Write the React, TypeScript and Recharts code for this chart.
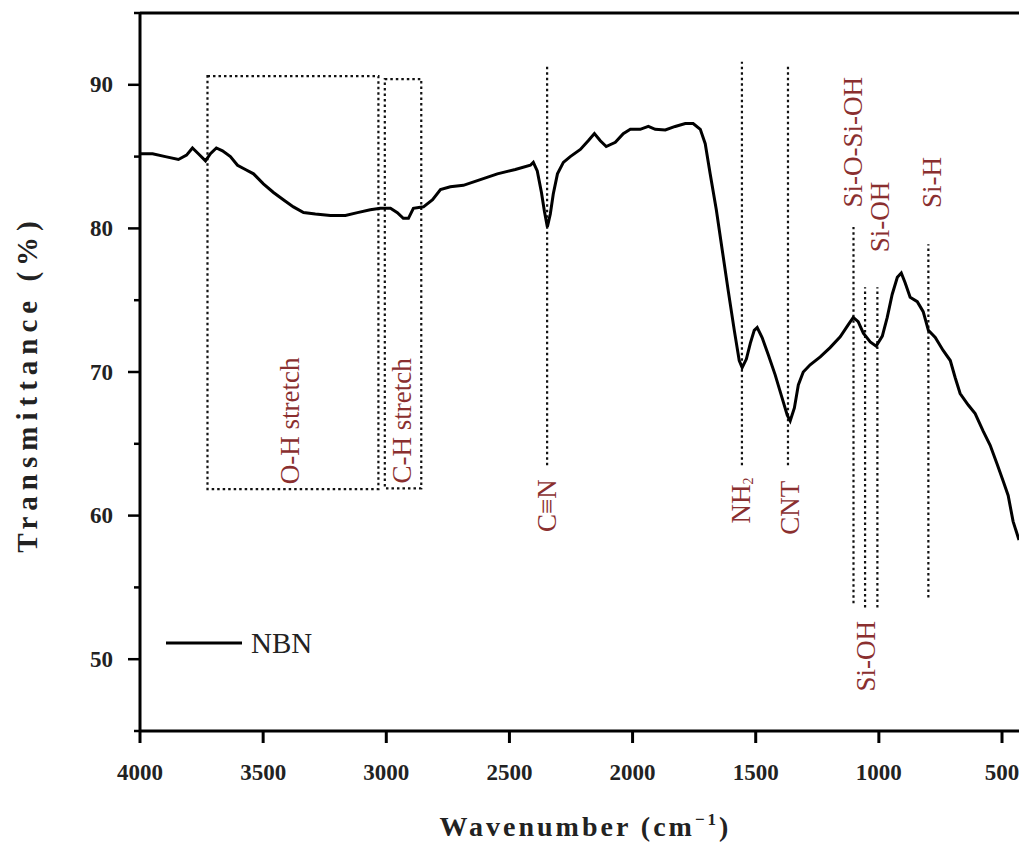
import { LineChart, Line, XAxis, YAxis, ReferenceLine, ReferenceArea, ReferenceDot } from "recharts";

// FTIR spectrum of NBN
const wavenumber = [
  4000, 3949, 3897, 3844, 3811, 3787, 3763, 3734, 3714, 3690, 3665, 3633, 3604, 3572, 3539, 3499,
  3458, 3418, 3377, 3336, 3288, 3227, 3166, 3117, 3065, 3024, 2983, 2955, 2931, 2910, 2890, 2849,
  2812, 2780, 2740, 2687, 2618, 2549, 2476, 2415, 2403, 2387, 2370, 2358, 2346, 2334, 2322, 2305,
  2281, 2253, 2212, 2180, 2155, 2131, 2107, 2070, 2038, 2009, 1969, 1936, 1908, 1867, 1827, 1786,
  1754, 1725, 1705, 1685, 1660, 1636, 1612, 1587, 1567, 1555, 1538, 1522, 1506, 1494, 1474, 1449,
  1421, 1393, 1372, 1360, 1343, 1327, 1307, 1279, 1238, 1198, 1157, 1124, 1104, 1084, 1063, 1035,
  1011, 986, 966, 946, 925, 909, 893, 873, 844, 820, 799, 771, 739, 710, 690, 670,
  637, 609, 577, 548, 520, 495, 475, 455, 431,
];
const transmittance = [
  85.2, 85.2, 85.0, 84.8, 85.1, 85.6, 85.2, 84.7, 85.2, 85.6, 85.4, 85.0, 84.4, 84.1, 83.8, 83.1,
  82.5, 82.0, 81.5, 81.1, 81.0, 80.9, 80.9, 81.1, 81.3, 81.4, 81.4, 81.1, 80.7, 80.7, 81.4, 81.5,
  82.0, 82.7, 82.9, 83.0, 83.4, 83.8, 84.1, 84.4, 84.6, 84.0, 82.5, 81.2, 80.1, 81.0, 82.4, 83.8,
  84.6, 85.0, 85.5, 86.1, 86.6, 86.1, 85.7, 86.0, 86.6, 86.9, 86.9, 87.1, 86.9, 86.85, 87.1, 87.3,
  87.3, 86.9, 85.9, 83.8, 81.3, 78.5, 75.7, 72.9, 70.8, 70.3, 70.9, 72.0, 72.9, 73.1, 72.4, 71.2,
  69.8, 68.2, 67.0, 66.6, 67.5, 69.1, 70.0, 70.5, 71.05, 71.7, 72.45, 73.3, 73.8, 73.5, 72.7, 72.1,
  71.8, 72.5, 73.8, 75.4, 76.6, 76.9, 76.2, 75.2, 74.9, 74.2, 72.9, 72.4, 71.5, 70.8, 69.6, 68.5,
  67.7, 67.1, 65.9, 64.9, 63.6, 62.4, 61.4, 59.6, 58.3,
];

const xTicks = [4000, 3500, 3000, 2500, 2000, 1500, 1000, 500];
const yTicks = [45, 50, 55, 60, 65, 70, 75, 80, 85, 90, 95];

// dotted boxes for the stretch regions
const boxLeft = [3726, 3006];
const boxRight = [3032, 2858];
const boxBottom = [61.85, 61.9];
const boxTop = [90.6, 90.4];

// dotted band markers
const bandWn = [2347, 1556, 1369, 1103, 1056, 1006, 799];
const bandFrom = [63.5, 63.5, 63.5, 53.9, 53.6, 53.6, 54.3];
const bandTo = [91.3, 91.6, 91.3, 80.1, 75.9, 75.9, 78.9];

// band labels (centre of the rotated text)
const labelText = ["O-H stretch", "C-H stretch", "C≡N", "NH2", "CNT", "Si-O-Si-OH", "Si-OH", "Si-H", "Si-OH"];
const labelWn = [3389, 2935, 2346, 1559, 1360, 1104, 995, 784, 1051];
const labelT = [66.6, 66.6, 60.7, 61.05, 60.55, 86.0, 80.8, 83.2, 50.2];

const seriesName = "NBN";

const data = wavenumber.map((wn, i) => ({ wn, t: transmittance[i] }));

const SERIF = '"Liberation Serif", "Times New Roman", serif';
const RED = "#8a2f2f";

function XTick({ x, y, payload }: any) {
  return (
    <g>
      <line x1={x} x2={x} y1={y} y2={y + 12} stroke="#000" strokeWidth={3} />
      <text x={x} y={y + 41} textAnchor="middle" dominantBaseline="central"
            fontFamily={SERIF} fontWeight="bold" fontSize={23} fill="#222">{payload.value}</text>
    </g>
  );
}

function YTick({ x, y, payload }: any) {
  const major = payload.value % 10 === 0;
  return (
    <g>
      <line x1={x - (major ? 12 : 6)} x2={x} y1={y} y2={y} stroke="#000" strokeWidth={2.5} />
      {major && (
        <text x={x - 27} y={y} textAnchor="end" dominantBaseline="central"
              fontFamily={SERIF} fontWeight="bold" fontSize={23} fill="#222">{payload.value}</text>
      )}
    </g>
  );
}

function BandLabel({ cx, cy, text }: any) {
  const isNH2 = text === "NH2";
  return (
    <text x={cx} y={cy} transform={`rotate(-90 ${cx} ${cy})`} textAnchor="middle" dominantBaseline="central"
          fontFamily={SERIF} fontSize={27} fill={RED}>
      {isNH2 ? <>NH<tspan fontSize={14} dy={7}>2</tspan></> : text}
    </text>
  );
}

export default function App() {
  return (
    <div style={{ position: "absolute", left: 0, top: 0, width: 1019, height: 845, background: "#fff" }}>
      <LineChart width={1019} height={845} data={data} margin={{ top: 13, right: 0, bottom: 0, left: 0 }}>
        <XAxis type="number" dataKey="wn" domain={[431, 4000]} reversed allowDataOverflow ticks={xTicks}
               interval={0} height={114} axisLine={{ stroke: "#000", strokeWidth: 3 }} tickLine={false}
               tickSize={0} tickMargin={0} tick={<XTick />}
               label={({ viewBox }: any) => (
                 <text x={viewBox.x + viewBox.width / 2 + 6} y={viewBox.y + 105} textAnchor="middle"
                       fontFamily={SERIF} fontWeight="bold" fontSize={28} letterSpacing={3} fill="#222">
                   Wavenumber (cm<tspan fontSize={17} dy={-11}>−1</tspan><tspan dy={11}>)</tspan>
                 </text>
               )} />
        <YAxis type="number" domain={[45, 95]} allowDataOverflow ticks={yTicks} interval={0} width={140}
               axisLine={{ stroke: "#000", strokeWidth: 3 }} tickLine={false} tickSize={0} tickMargin={0}
               tick={<YTick />}
               label={({ viewBox }: any) => {
                 const cx = 27;
                 const cy = viewBox.y + viewBox.height / 2 + 12;
                 return (
                   <text x={cx} y={cy} transform={`rotate(-90 ${cx} ${cy})`} textAnchor="middle"
                         dominantBaseline="central" fontFamily={SERIF} fontWeight="bold" fontSize={29}
                         letterSpacing={6} fill="#222">Transmittance (%)</text>
                 );
               }} />
        <ReferenceLine y={95} stroke="#000" strokeWidth={3} />
        {boxLeft.map((x1, i) => (
          <ReferenceArea key={`box${i}`} x1={x1} x2={boxRight[i]} y1={boxBottom[i]} y2={boxTop[i]}
                         fill="none" fillOpacity={0} stroke="#111" strokeWidth={2.2} strokeDasharray="2.5 3" />
        ))}
        {bandWn.map((wn, i) => (
          <ReferenceLine key={`band${i}`} segment={[{ x: wn, y: bandFrom[i] }, { x: wn, y: bandTo[i] }]}
                         stroke="#111" strokeWidth={2.2} strokeDasharray="2.5 3" />
        ))}
        {labelText.map((text, i) => (
          <ReferenceDot key={`lab${i}`} x={labelWn[i]} y={labelT[i]} r={0}
                        shape={(p: any) => <BandLabel cx={p.cx} cy={p.cy} text={text} />} />
        ))}
        <Line type="linear" dataKey="t" name={seriesName} stroke="#000" strokeWidth={3} dot={false}
              isAnimationActive={false} />
      </LineChart>
      {/* legend drawn as overlay so it does not shrink the plot area */}
      <div style={{ position: "absolute", left: 166, top: 628, display: "flex", alignItems: "center" }}>
        <svg width={76} height={6}><line x1={0} x2={76} y1={3} y2={3} stroke="#000" strokeWidth={3} /></svg>
        <span style={{ fontFamily: SERIF, fontSize: 29, color: "#222", marginLeft: 9, lineHeight: "30px" }}>
          {seriesName}
        </span>
      </div>
    </div>
  );
}
